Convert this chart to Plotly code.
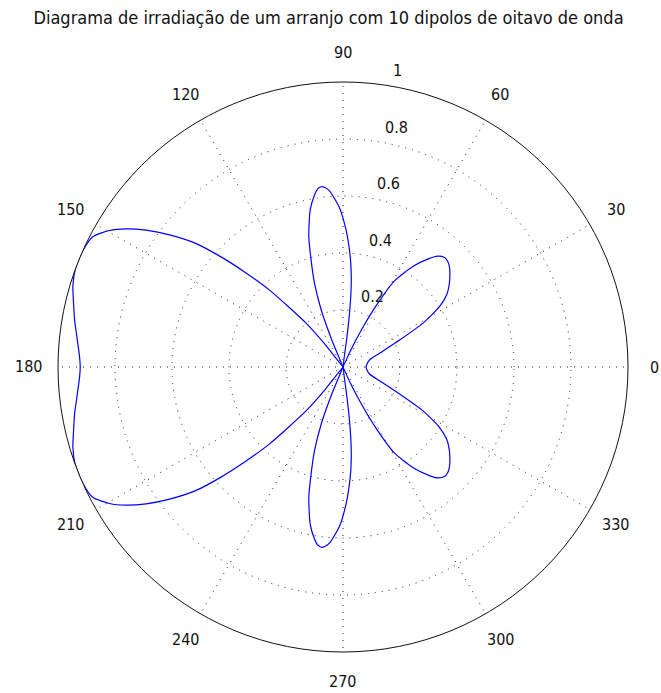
import math
import plotly.graph_objects as go

# Radiation pattern of a 10-element array of eighth-wave dipoles (upper half, 0..180 deg)
theta_upper = [0, 5, 10, 14.8, 20.6, 25.5, 28.7, 32, 35, 38.2, 41, 43.3, 45.3, 47.2, 49.5,
               51.5, 55.2, 59.2, 61.5, 63.5, 65.5, 67.5, 74, 81.5, 82.5, 83, 84, 85,
               86.3, 88.7, 91.3, 94.4, 95.8, 96.9, 98.2, 99.4, 101.8, 104.7, 106.6,
               108.8, 110.9, 112.5, 114, 121, 127, 128.5, 130.1, 133.7, 136, 138, 140,
               142.7, 145.2, 147.5, 149.7, 152.5, 156, 160, 163.4, 167, 170.1, 173,
               177.8, 180]
r_upper = [0.081, 0.083, 0.088, 0.096, 0.137, 0.22, 0.319, 0.399, 0.445, 0.475, 0.497,
           0.513, 0.522, 0.524, 0.512, 0.487, 0.429, 0.35, 0.25, 0.15, 0.06, 0.0, 0.01,
           0.0, 0.10, 0.18, 0.27, 0.33, 0.39, 0.48, 0.56, 0.62, 0.633, 0.637, 0.630,
           0.612, 0.563, 0.473, 0.392, 0.31, 0.214, 0.10, 0.0, 0.01, 0.0, 0.10, 0.20,
           0.373, 0.48, 0.58, 0.675, 0.765, 0.841, 0.902, 0.949, 0.99, 1.0, 1.0, 0.989,
           0.97, 0.956, 0.942, 0.925, 0.922]

# The pattern is symmetric about the 0-180 axis
theta_full = theta_upper + [360 - t for t in reversed(theta_upper[:-1])]
r_full = r_upper + list(reversed(r_upper[:-1]))

radial_ticks = [0.2, 0.4, 0.6, 0.8, 1.0]
radial_labels = ["0.2", "0.4", "0.6", "0.8", "1"]
angle_ticks = [0, 30, 60, 90, 120, 150, 180, 210, 240, 270, 300, 330]

TITLE = "Diagrama de irradiação de um arranjo com 10 dipolos de oitavo de onda"
FONT = "Liberation Sans Narrow, DejaVu Sans Condensed, Liberation Sans, Arial, sans-serif"
TEXT_COLOR = "#111111"
GRID_COLOR = "#222222"


def polar_to_paper(radius, angle_deg):
    # polar domain fills the (square) plot area: centre (0.5, 0.5), unit radius = 0.5
    a = math.radians(angle_deg)
    return 0.5 + 0.5 * radius * math.cos(a), 0.5 + 0.5 * radius * math.sin(a)


annotations = []
for val, lab in zip(radial_ticks, radial_labels):
    x, y = polar_to_paper(val, 82)
    annotations.append(dict(
        x=x, y=y, xref="paper", yref="paper", text=lab, showarrow=False,
        xanchor="left", yanchor="middle", xshift=8, yshift=14,
        font=dict(family=FONT, size=16, color=TEXT_COLOR),
    ))
for ang in angle_ticks:
    x, y = polar_to_paper(1.105, ang)
    annotations.append(dict(
        x=x, y=y, xref="paper", yref="paper", text=str(ang), showarrow=False,
        xanchor="center", yanchor="middle", xshift=-3 if ang == 0 else 0,
        font=dict(family=FONT, size=16, color=TEXT_COLOR),
    ))

fig = go.Figure()

fig.add_trace(go.Scatterpolar(
    r=r_full, theta=theta_full, mode="lines",
    line=dict(color="#0000ff", width=1.2, shape="spline", smoothing=0.6),
    hoverinfo="skip", showlegend=False,
))

fig.update_layout(
    width=661, height=693,
    margin=dict(l=58, r=33, t=82, b=41),
    paper_bgcolor="white",
    plot_bgcolor="white",
    title=dict(text=TITLE, x=0.497, xanchor="center", y=0.974, yanchor="middle",
               yref="container", font=dict(family=FONT, size=18, color=TEXT_COLOR)),
    annotations=annotations,
    polar=dict(
        bgcolor="white",
        domain=dict(x=[0, 1], y=[0, 1]),
        radialaxis=dict(
            range=[0, 1], tickvals=[0.2, 0.4, 0.6, 0.8], showticklabels=False,
            ticks="", showline=False, gridcolor=GRID_COLOR, griddash="1px,6px",
            gridwidth=1,
        ),
        angularaxis=dict(
            direction="counterclockwise", rotation=0,
            tickvals=angle_ticks, showticklabels=False, ticks="",
            showline=True, linecolor=TEXT_COLOR, linewidth=1,
            gridcolor=GRID_COLOR, griddash="1px,6px", gridwidth=1,
        ),
    ),
)

fig.write_html("out.html")
